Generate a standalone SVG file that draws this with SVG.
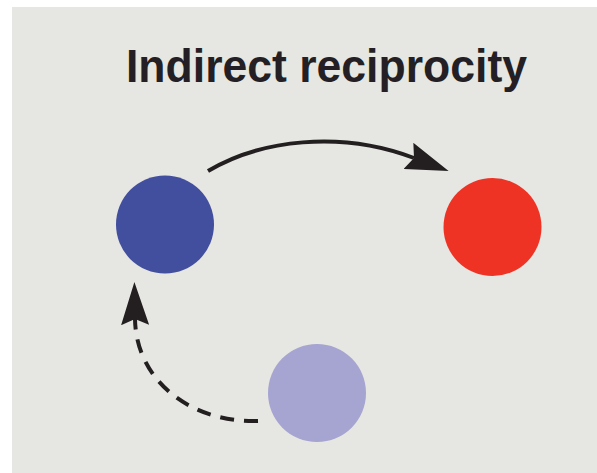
<svg xmlns="http://www.w3.org/2000/svg" width="597" height="473" viewBox="0 0 597 473">
  <style>
    .bg { fill: #e6e6e2; }
    .title { font-family: "Liberation Sans", Arial, sans-serif; font-weight: bold; font-size: 47px; fill: #231f24; }
    .conn { fill: none; stroke: #231f20; stroke-width: 4; }
    .dashed { stroke-dasharray: 14 10; }
  </style>
  <defs>
    <marker id="head" markerUnits="userSpaceOnUse" viewBox="0 0 43 28" markerWidth="43" markerHeight="28" refX="6" refY="14" orient="auto">
      <path d="M0,0 L43,14 L0,28 L6,14 Z" fill="#231f20"/>
    </marker>
  </defs>
  <rect width="597" height="473" fill="#ffffff"/>
  <rect class="bg" x="12" y="7" width="585" height="466"/>
  <text class="title" x="126" y="82" textLength="401" lengthAdjust="spacingAndGlyphs">Indirect reciprocity</text>
  <g id="connectors">
    <path class="conn" d="M208,171 C260,140 340,130 414,158" marker-end="url(#head)"/>
    <path class="conn dashed" d="M258,421 C190,423 136,380 135,319" marker-end="url(#head)"/>
  </g>
  <g id="donor"><circle cx="165" cy="224.5" r="49" fill="#424e9e"/></g>
  <g id="recipient"><circle cx="492.5" cy="227" r="49" fill="#ee3325"/></g>
  <g id="observer"><circle cx="317" cy="393" r="49" fill="#a6a4d1"/></g>
</svg>
